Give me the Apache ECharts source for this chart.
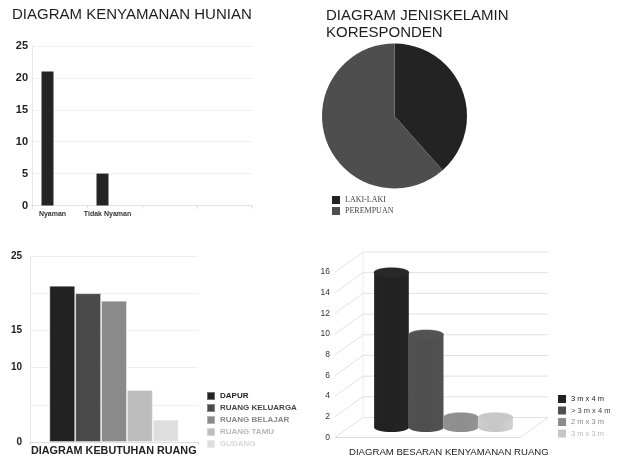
<!DOCTYPE html>
<html>
<head>
<meta charset="utf-8">
<script src="https://cdn.jsdelivr.net/npm/echarts@6/dist/echarts.min.js"></script>
<style>
html,body{margin:0;padding:0;background:#fff;}
#main{width:618px;height:462px;}
</style>
</head>
<body>
<div id="main"></div>
<script>
// ---- data ----
const hunianCats = ['Nyaman', 'Tidak Nyaman', '', ''];
const hunianValues = [21, 5, null, null];

const genderNames = ['LAKI-LAKI', 'PEREMPUAN'];
const genderValues = [10, 16];

const kebutuhanNames = ['DAPUR', 'RUANG KELUARGA', 'RUANG BELAJAR', 'RUANG TAMU', 'GUDANG'];
const kebutuhanValues = [21, 20, 19, 7, 3];
const kebutuhanShownTicks = [0, 10, 15, 25];

const besaranNames = ['3 m x 4 m', '> 3 m x 4 m', '2 m x 3 m', '3 m x 3 m'];
const besaranValues = [15, 9, 1, 1];
const besaranTicks = [0, 2, 4, 6, 8, 10, 12, 14, 16];

// ---- styles ----
const SANS = 'Liberation Sans, Arial, sans-serif';
const genderColors = ['#232323', '#4e4e4e'];
const kebutuhanColors = ['#222222', '#4a4a4a', '#8a8a8a', '#bdbdbd', '#dedede'];
const kebutuhanTextColors = ['#222222', '#444444', '#888888', '#b8b8b8', '#d8d8d8'];
const besaranColors = ['#222222', '#4e4e4e', '#8c8c8c', '#c6c6c6'];
const besaranTextColors = ['#222222', '#444444', '#888888', '#bbbbbb'];
const DEPTH = { x: 28, y: -20 };

const chart = echarts.init(document.getElementById('main'), null, { renderer: 'canvas' });

const series = [];
// top-left bars
series.push({
  type: 'bar', name: 'Hunian', xAxisIndex: 0, yAxisIndex: 0,
  data: hunianValues, barWidth: 12, barGap: '0%',
  itemStyle: { color: '#242424' }
});
series.push({ type: 'bar', name: 'spacerA', xAxisIndex: 0, yAxisIndex: 0, data: hunianValues.map(() => null), barWidth: 12, barGap: '0%' });
series.push({ type: 'bar', name: 'spacerB', xAxisIndex: 0, yAxisIndex: 0, data: hunianValues.map(() => null), barWidth: 12, barGap: '0%' });

// pie
series.push({
  type: 'pie', name: 'Gender', center: [394.5, 116], radius: 72.5,
  startAngle: 90, clockwise: true, label: { show: false }, labelLine: { show: false },
  silent: true,
  data: genderNames.map((n, i) => ({ name: n, value: genderValues[i], itemStyle: { color: genderColors[i] } }))
});

// bottom-left grouped bars
kebutuhanNames.forEach((n, i) => {
  series.push({
    type: 'bar', name: n, xAxisIndex: 1, yAxisIndex: 1,
    data: [kebutuhanValues[i]], barGap: '0%', barCategoryGap: '23%',
    itemStyle: { color: kebutuhanColors[i], borderColor: 'rgba(255,255,255,0.35)', borderWidth: 1 }
  });
});

// bottom-right pseudo-3D frame
series.push({
  type: 'custom', name: 'frame', xAxisIndex: 2, yAxisIndex: 2, silent: true, z: 1,
  data: besaranTicks.map(v => [0, v]),
  renderItem: function (params, api) {
    const v = api.value(1);
    const cs = params.coordSys;
    const y = api.coord([0, v])[1];
    const x0 = cs.x;
    const st = { stroke: '#e2e2e2', lineWidth: 1 };
    const ch = [
      { type: 'line', shape: { x1: x0, y1: y, x2: x0 + DEPTH.x, y2: y + DEPTH.y }, style: st },
      { type: 'line', shape: { x1: x0 + DEPTH.x, y1: y + DEPTH.y, x2: x0 + cs.width + DEPTH.x, y2: y + DEPTH.y }, style: st }
    ];
    if (v === 0) {
      ch.push({ type: 'line', shape: { x1: x0 + cs.width, y1: y, x2: x0 + cs.width + DEPTH.x, y2: y + DEPTH.y }, style: st });
      ch.push({ type: 'line', shape: { x1: x0 + DEPTH.x, y1: y + DEPTH.y, x2: x0 + DEPTH.x, y2: cs.y + DEPTH.y }, style: { stroke: '#ececec', lineWidth: 1 } });
    }
    return { type: 'group', children: ch };
  }
});

// bottom-right cylinders
besaranNames.forEach((n, i) => {
  series.push({
    type: 'custom', name: n, xAxisIndex: 2, yAxisIndex: 2, z: 3,
    itemStyle: { color: besaranColors[i] },
    data: [[0, besaranValues[i]]],
    renderItem: function (params, api) {
      const v = api.value(1);
      const bandW = api.size([1, 0])[0];
      const w = bandW * 0.75 / besaranNames.length;
      const top = api.coord([0, v]);
      const base = api.coord([0, 0]);
      const cx = top[0] + DEPTH.x / 2 + 2;
      const left = cx - (besaranNames.length / 2) * w + i * w;
      const yTop = top[1] + DEPTH.y / 2;
      const yBase = base[1] + DEPTH.y / 2;
      const ry = 4.5;
      const col = besaranColors[i];
      const body = new echarts.graphic.LinearGradient(0, 0, 1, 0, [
        { offset: 0, color: echarts.color.lift(col, -0.04) },
        { offset: 0.5, color: col },
        { offset: 1, color: echarts.color.lift(col, -0.06) }
      ]);
      return {
        type: 'group',
        children: [
          { type: 'ellipse', shape: { cx: left + w / 2, cy: yBase, rx: w / 2, ry: ry }, style: { fill: body } },
          { type: 'rect', shape: { x: left, y: yTop, width: w, height: yBase - yTop }, style: { fill: body } },
          { type: 'ellipse', shape: { cx: left + w / 2, cy: yTop, rx: w / 2, ry: ry }, style: { fill: echarts.color.lift(col, 0.03), stroke: echarts.color.lift(col, 0.06), lineWidth: 0.5 } }
        ]
      };
    }
  });
});

const option = {
  animation: false,
  backgroundColor: '#ffffff',
  textStyle: { fontFamily: SANS },
  title: [
    { text: 'DIAGRAM KENYAMANAN HUNIAN', left: 12, top: 7, padding: 0,
      textStyle: { fontFamily: SANS, fontSize: 15, fontWeight: 'normal', color: '#1e1e1e' } },
    { text: 'DIAGRAM JENISKELAMIN\nKORESPONDEN', left: 326, top: 7, padding: 0,
      textStyle: { fontFamily: SANS, fontSize: 15, fontWeight: 'normal', color: '#1e1e1e', lineHeight: 17 } },
    { text: 'DIAGRAM KEBUTUHAN RUANG', left: 31, top: 446, padding: 0,
      textStyle: { fontFamily: SANS, fontSize: 10.8, fontWeight: 'bold', color: '#222' } },
    { text: 'DIAGRAM BESARAN KENYAMANAN RUANG', left: 349, top: 447, padding: 0,
      textStyle: { fontFamily: SANS, fontSize: 9.6, fontWeight: 'normal', color: '#222' } }
  ],
  legend: [
    { data: genderNames, left: 332, top: 196, orient: 'vertical', padding: 0,
      itemWidth: 8, itemHeight: 8, itemGap: 3, icon: 'rect', selectedMode: false,
      textStyle: { fontFamily: 'Liberation Serif, serif', fontSize: 8, color: '#444' } },
    { data: kebutuhanNames.map((n, i) => ({ name: n, textStyle: { color: kebutuhanTextColors[i] } })),
      left: 206, top: 391, orient: 'vertical', padding: 0,
      itemWidth: 8, itemHeight: 8, itemGap: 2, icon: 'rect', selectedMode: false,
      textStyle: { fontFamily: SANS, fontSize: 8, fontWeight: 'bold' } },
    { data: besaranNames.map((n, i) => ({ name: n, itemStyle: { color: besaranColors[i] }, textStyle: { color: besaranTextColors[i] } })),
      left: 558, top: 395, orient: 'vertical', padding: 0,
      itemWidth: 8, itemHeight: 8, itemGap: 3.5, icon: 'rect', selectedMode: false,
      textStyle: { fontFamily: SANS, fontSize: 7.5 } }
  ],
  grid: [
    { left: 32, top: 46, width: 220, height: 159.5 },
    { left: 30, top: 256, width: 168, height: 186 },
    { left: 335, top: 272, width: 185, height: 165.5 }
  ],
  xAxis: [
    { gridIndex: 0, type: 'category', data: hunianCats,
      axisLine: { lineStyle: { color: '#e3e3e3' } },
      axisTick: { show: true, length: 3, lineStyle: { color: '#dddddd' } },
      axisLabel: { fontSize: 7, fontWeight: 'bold', color: '#333', margin: 5, padding: [0, 14, 0, 0], interval: 0 } },
    { gridIndex: 1, type: 'category', data: [''],
      axisLine: { lineStyle: { color: '#dddddd' } },
      axisTick: { show: true, length: 3, lineStyle: { color: '#dddddd' } },
      axisLabel: { show: false } },
    { gridIndex: 2, type: 'category', data: [''],
      axisLine: { lineStyle: { color: '#dddddd' } },
      axisTick: { show: false }, axisLabel: { show: false } }
  ],
  yAxis: [
    { gridIndex: 0, type: 'value', min: 0, max: 25, interval: 5,
      axisLine: { show: true, lineStyle: { color: '#e8e8e8' } }, axisTick: { show: false },
      splitLine: { lineStyle: { color: '#efefef' } },
      axisLabel: { fontSize: 11, fontWeight: 'bold', color: '#222', margin: 4 } },
    { gridIndex: 1, type: 'value', min: 0, max: 25, interval: 5,
      axisLine: { show: true, lineStyle: { color: '#e5e5e5' } }, axisTick: { show: false },
      splitLine: { lineStyle: { color: '#efefef' } },
      axisLabel: { fontSize: 10, fontWeight: 'bold', color: '#222', margin: 8,
        formatter: v => kebutuhanShownTicks.indexOf(v) >= 0 ? String(v) : '' } },
    { gridIndex: 2, type: 'value', min: 0, max: 16, interval: 2,
      axisLine: { show: false }, axisTick: { show: false }, splitLine: { show: false },
      axisLabel: { fontSize: 8.5, color: '#333', margin: 5 } }
  ],
  series: series
};
chart.setOption(option);
</script>
</body>
</html>
